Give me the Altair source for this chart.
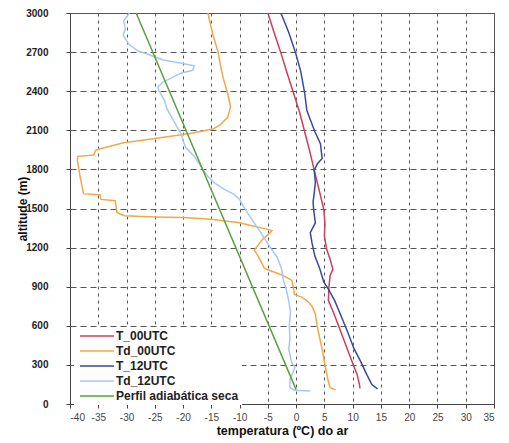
import altair as alt
import pandas as pd

series_names = ["T_00UTC", "Td_00UTC", "T_12UTC", "Td_12UTC", "Perfil adiabática seca"]
series_colors = ["#c8405a", "#f0a848", "#3a4a9a", "#a8c8f0", "#5aa040"]

x_ticks = list(range(-40, 36, 5))
y_ticks = list(range(0, 3001, 300))

# T_00UTC (red)
t00_h = [3000, 2850, 2694, 2540, 2390, 2240, 2091, 1940, 1795, 1618, 1491, 1380, 1289, 1187, 1111,
         1035, 985, 896, 795, 681, 554, 428, 301, 225, 149, 119]
t00_T = [-5.0, -3.9, -2.7, -1.6, -0.5, 0.6, 1.5, 2.4, 3.2, 4.2, 4.9, 5.1, 5.0, 5.4, 6.0,
         6.5, 6.0, 5.8, 5.7, 6.8, 7.9, 9.0, 10.1, 10.8, 11.2, 11.3]

# Td_00UTC (orange)
td00_h = [3000, 2900, 2800, 2700, 2600, 2500, 2380, 2280, 2200, 2140, 2110, 2075, 2035, 2005,
          1955, 1945, 1910, 1900, 1870, 1740, 1612, 1606, 1570, 1560, 1470, 1445, 1435, 1430,
          1418, 1390, 1370, 1340, 1330, 1305, 1265, 1215, 1180, 1140, 1040, 1020, 990, 950,
          900, 840, 820, 790, 750, 690, 600, 500, 400, 300, 190, 125, 108]
td00_T = [-15.6, -15.1, -14.5, -13.8, -13.4, -12.9, -12.1, -11.6, -12.1, -13.5, -14.7, -18.8,
          -25.3, -30.5, -35.0, -35.5, -35.8, -38.6, -38.7, -38.2, -37.6, -34.7, -34.5, -32.0,
          -31.7, -30.4, -25.0, -20.0, -15.0, -10.0, -8.0, -5.0, -4.3, -4.8, -5.9, -6.8, -7.4,
          -6.8, -5.6, -4.4, -2.5, -0.8, -0.5, -0.3, 1.0, 2.0, 2.8, 3.4, 3.7, 4.2, 4.7, 5.1,
          5.6, 6.0, 7.0]

# T_12UTC (dark blue)
t12_h = [3000, 2850, 2694, 2554, 2390, 2251, 2091, 1997, 1884, 1846, 1795, 1700, 1618, 1550,
         1491, 1390, 1314, 1238, 1137, 1035, 934, 896, 795, 681, 554, 428, 327, 225, 149, 116]
t12_T = [-2.7, -1.3, -0.1, 0.8, 1.5, 1.9, 3.3, 4.3, 4.6, 3.8, 3.2, 3.4, 3.2, 3.0,
         3.1, 3.4, 2.5, 2.8, 3.3, 4.2, 4.9, 5.5, 6.8, 7.9, 9.1, 10.2, 11.4, 12.5, 13.4, 14.4]

# Td_12UTC (light blue)
td12_h = [3000, 2940, 2880, 2830, 2760, 2710, 2680, 2640, 2620, 2595, 2560, 2540, 2500, 2470,
          2430, 2400, 2330, 2260, 2200, 2120, 2070, 2020, 1965, 1900, 1820, 1745, 1695, 1645,
          1606, 1570, 1515, 1420, 1330, 1265, 1190, 1130, 1040, 960, 890, 810, 710, 600, 500,
          420, 320, 280, 240, 190, 125, 106, 100]
td12_T = [-29.5, -30.5, -30.2, -30.6, -29.6, -28.0, -26.0, -23.5, -21.0, -18.0, -18.3, -20.3,
          -22.1, -23.6, -24.5, -24.2, -23.3, -22.8, -22.0, -21.0, -20.3, -20.0, -19.5, -18.0,
          -16.8, -15.6, -14.4, -12.6, -10.9, -10.0, -9.3, -7.9, -6.5, -5.5, -4.4, -3.4, -2.6,
          -2.3, -1.8, -1.4, -1.0, -1.2, -1.1, -1.3, -0.8, -0.2, -0.6, -1.1, -1.1, -0.3, 2.5]

# dry adiabatic profile (green)
ad_h = [110, 3000]
ad_T = [0.0, -28.3]

rows = []
for name, hs, ts in zip(series_names,
                        [t00_h, td00_h, t12_h, td12_h, ad_h],
                        [t00_T, td00_T, t12_T, td12_T, ad_T]):
    for i, (h, t) in enumerate(zip(hs, ts)):
        rows.append({"serie": name, "alt": h, "temp": t, "ordem": i})
df = pd.DataFrame(rows)

FONT = "Liberation Sans"

chart = alt.Chart(df).mark_line(strokeWidth=1.5).encode(
    x=alt.X("temp:Q",
            scale=alt.Scale(domain=[-40, 35], nice=False, zero=False),
            axis=alt.Axis(values=x_ticks, title="temperatura (ºC) do ar",
                          labelExpr="'' + datum.value",
                          labelFontSize=10, labelColor="#444", labelFont=FONT,
                          labelPadding=4, tickSize=4, tickColor="#444",
                          domainColor="#444", grid=True, gridColor="#555",
                          gridDash=[3, 4], gridWidth=1,
                          titleFont=FONT, titleFontSize=12.5, titleFontWeight="bold",
                          titleColor="#111", titlePadding=2)),
    y=alt.Y("alt:Q",
            scale=alt.Scale(domain=[0, 3000], nice=False),
            axis=alt.Axis(values=y_ticks, title="altitude (m)", format="d",
                          labelFontSize=10, labelFontWeight="bold", labelColor="#222",
                          labelFont=FONT, labelPadding=18, tickSize=4, tickColor="#444",
                          domainColor="#444", grid=True, gridColor="#555",
                          gridDash=[6, 4], gridWidth=1,
                          titleFont=FONT, titleFontSize=12, titleFontWeight="bold",
                          titleColor="#111", titlePadding=-4)),
    color=alt.Color("serie:N",
                    scale=alt.Scale(domain=series_names, range=series_colors),
                    legend=alt.Legend(title=None, orient="none", legendX=4, legendY=314,
                                      fillColor="white", padding=3,
                                      symbolType="M-6,0H6", symbolSize=32,
                                      symbolOffset=14, symbolStrokeWidth=1.5,
                                      labelFont=FONT, labelFontSize=12,
                                      labelFontWeight="bold", labelColor="#222",
                                      labelOffset=13, rowPadding=3)),
    order="ordem:Q",
).properties(
    width=424, height=391,
    autosize=alt.AutoSizeParams(type="none"),
    padding={"left": 62, "top": 5, "right": 5, "bottom": 37},
).configure_view(stroke="#555", strokeWidth=1)

chart.save("out.html", embed_options={"renderer": "svg", "actions": False})
